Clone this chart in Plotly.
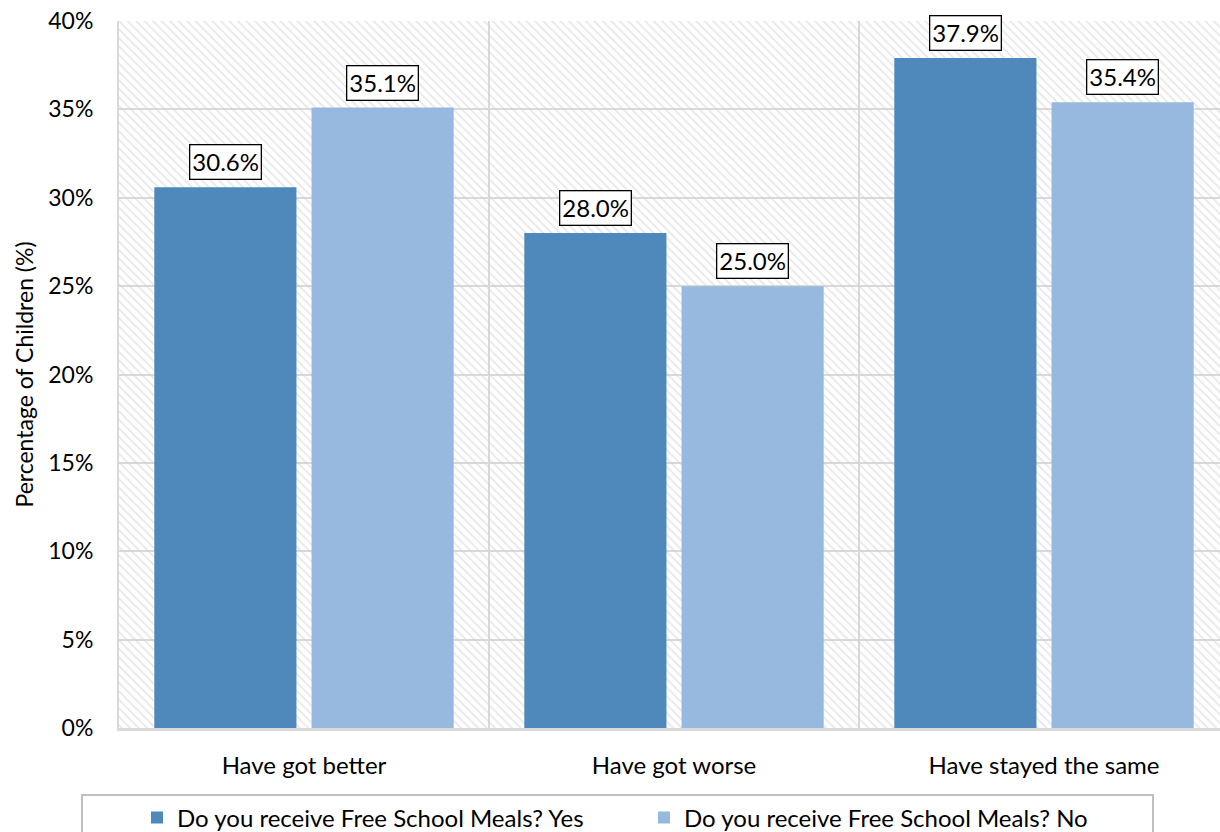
import plotly.graph_objects as go

categories = ["Have got better", "Have got worse", "Have stayed the same"]
fsm_yes = [30.6, 28.0, 37.9]
fsm_no = [35.1, 25.0, 35.4]
series_names = ["Do you receive Free School Meals? Yes", "Do you receive Free School Meals? No"]
y_ticks = [0, 5, 10, 15, 20, 25, 30, 35, 40]

FONT = "Lato"
W, H = 1220, 832
ML, MR, MT, MB = 119, 0, 21, 104
GRID = "#d9d9d9"
COLORS = ["#4f89bc", "#97b9e0"]

fig = go.Figure()

# hatched plot-area background, drawn on a hidden numeric axis underneath the bars
fig.add_trace(go.Bar(
    x=[0.5], y=[max(y_ticks)], width=[1], xaxis="x", yaxis="y",
    marker=dict(color="rgba(0,0,0,0)", line=dict(width=0),
                pattern=dict(shape="\\", fgcolor="#d0d0d0", bgcolor="rgba(0,0,0,0)",
                             size=6, solidity=0.3)),
    showlegend=False, hoverinfo="skip",
))

for name, vals, col in zip(series_names, [fsm_yes, fsm_no], COLORS):
    fig.add_trace(go.Bar(
        x=categories, y=vals, name=name, xaxis="x2", yaxis="y",
        marker=dict(color=col, line=dict(width=0)),
    ))

# value labels in boxes above each bar
bargap, groupgap = 0.15, 0.096
slot = (1 - bargap) / 2
annotations = []
for si, vals in enumerate([fsm_yes, fsm_no]):
    off = (si - 0.5) * slot
    for ci, v in enumerate(vals):
        annotations.append(dict(
            x=ci + off, y=v, xref="x2", yref="y", text=f"{v:.1f}%",
            showarrow=False, yanchor="bottom", yshift=7,
            font=dict(family=FONT, size=24, color="#000"),
            bgcolor="white", bordercolor="#000", borderwidth=1.3, borderpad=2,
        ))

plot_w = W - ML - MR
plot_h = H - MT - MB
px_per_cat = 370.0
x2_max = -0.5 + plot_w / px_per_cat

def px_to_paper_x(px):
    return (px - ML) / plot_w

def px_to_paper_y(py):
    return (H - MB - py) / plot_h

fig.update_layout(
    width=W, height=H,
    margin=dict(l=ML, r=MR, t=MT, b=MB, pad=0, autoexpand=False),
    paper_bgcolor="white", plot_bgcolor="white",
    barmode="group", bargap=bargap, bargroupgap=groupgap,
    font=dict(family=FONT, size=22, color="#000"),
    xaxis=dict(range=[0, 1], visible=False, fixedrange=True),
    xaxis2=dict(
        overlaying="x", anchor="y", type="category", range=[-0.5, x2_max],
        tickson="boundaries", showgrid=True, gridcolor=GRID, gridwidth=1.5,
        showline=True, linecolor=GRID, linewidth=2.5,
        ticks="", ticklabelstandoff=14,
        tickfont=dict(family=FONT, size=24, color="#000"),
    ),
    yaxis=dict(
        range=[0, 40], tickvals=y_ticks, ticktext=[f"{t}%" for t in y_ticks],
        showgrid=True, gridcolor=GRID, gridwidth=1.5, zeroline=False,
        showline=True, linecolor=GRID, linewidth=2,
        ticks="outside", ticklen=19, tickcolor="rgba(0,0,0,0)",
        tickfont=dict(family=FONT, size=23, color="#000"),
        title=dict(text="Percentage of Children (%)", standoff=8,
                   font=dict(family=FONT, size=23, color="#000")),
    ),
    legend=dict(
        orientation="h", xanchor="left", yanchor="middle",
        x=px_to_paper_x(137), y=px_to_paper_y(818),
        font=dict(family=FONT, size=24, color="#000"),
        bgcolor="rgba(0,0,0,0)", borderwidth=0,
        entrywidth=462, itemwidth=30, traceorder="normal",
    ),
    shapes=[dict(
        type="rect", xref="paper", yref="paper",
        x0=px_to_paper_x(82), x1=px_to_paper_x(1153),
        y0=px_to_paper_y(845), y1=px_to_paper_y(795),
        line=dict(color="#bfbfbf", width=2), fillcolor="rgba(0,0,0,0)", layer="above",
    )],
    annotations=annotations,
)

fig.write_html("out.html")
